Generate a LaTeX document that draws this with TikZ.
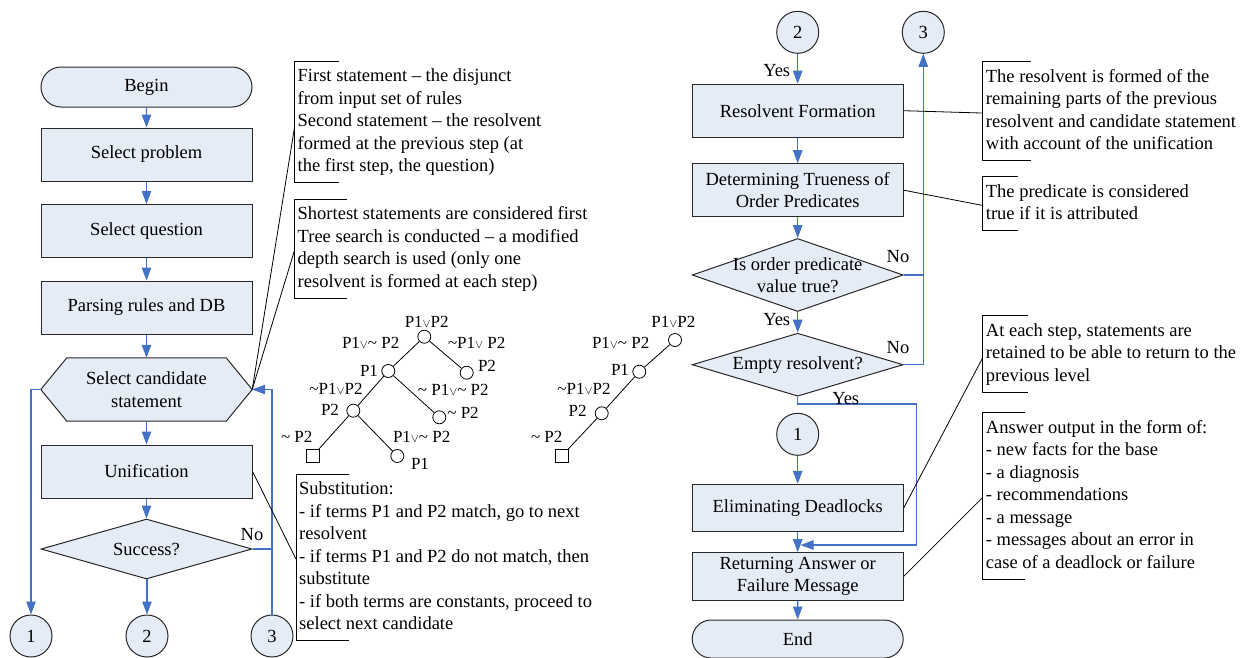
\documentclass[tikz,border=0pt]{standalone}
\usepackage{fontspec}
\setmainfont{Liberation Serif}
\usetikzlibrary{arrows.meta,shapes.geometric,shapes.misc,calc,backgrounds}
\definecolor{boxfill}{RGB}{230,236,246}
\definecolor{flowblue}{RGB}{68,114,196}
\definecolor{edgegray}{RGB}{40,40,40}
\newcommand\tld{\textasciitilde}
\newcommand\orv{\ensuremath{\scriptstyle\vee}}
\begin{document}
\begin{tikzpicture}[x=1pt,y=-1pt,
  every node/.style={font=\fontsize{18.5}{22.5}\selectfont},
  base/.style={draw=edgegray, line width=1pt, fill=boxfill, inner sep=0pt, align=center},
  procbox/.style={base, rectangle, minimum width=211pt, minimum height=53pt},
  termbox/.style={base, rounded rectangle, minimum width=211pt, minimum height=40pt},
  decide/.style={base, diamond, minimum width=211pt},
  conn/.style={base, circle, minimum size=42pt},
  flow/.style={draw=flowblue, line width=1.1pt, -{Triangle[length=13pt,width=9.5pt]}},
  flowline/.style={draw=flowblue, line width=1.1pt},
  note/.style={anchor=north west, align=left, inner xsep=3pt, inner ysep=4pt,
    execute at begin node=\strut, execute at end node=\strut},
  bracket/.style={draw=black, line width=0.9pt},
  callout/.style={draw=black, line width=0.8pt},
  tnode/.style={draw=black, circle, minimum size=13pt, inner sep=0pt, line width=0.8pt},
  tleaf/.style={draw=black, rectangle, minimum size=13pt, inner sep=0pt, line width=0.8pt},
  tlab/.style={font=\fontsize{17}{19}\selectfont, inner sep=0pt},
  tedge/.style={draw=black, line width=0.8pt},
  flab/.style={inner sep=0pt}
]
\useasboundingbox (0,0) rectangle (1242,657);

% ---------- left column ----------
\node[termbox] (begin) at (146.5,87) {Begin};
\node[procbox] (sp) at (146.5,154.5) {Select problem};
\node[procbox] (sq) at (146.5,231) {Select question};
\node[procbox] (pr) at (146.5,307.5) {Parsing rules and DB};
\node[inner sep=0pt, minimum width=211pt, minimum height=63pt, align=center] (hex) at (146.5,389.5) {Select candidate\\statement};
\begin{scope}[on background layer]
\draw[draw=edgegray, line width=1pt, fill=boxfill] (hex.west) -- ($(hex.north west)+(26,0)$) -- ($(hex.north east)+(-26,0)$) -- (hex.east) -- ($(hex.south east)+(-26,0)$) -- ($(hex.south west)+(26,0)$) -- cycle;
\end{scope}
\node[procbox] (unif) at (146.5,471.5) {Unification};
\node[decide, minimum height=60pt, label={[align=center]center:Success?}] (succ) at (146.5,549) {};
\node[conn] (c1) at (31,636) {1};
\node[conn] (c2) at (147,636) {2};
\node[conn] (c3) at (272,636) {3};

\draw[flow] (begin) -- (sp);
\draw[flow] (sp) -- (sq);
\draw[flow] (sq) -- (pr);
\draw[flow] (pr) -- (hex.north);
\draw[flow] (hex.south) -- (unif);
\draw[flow] (unif) -- (succ);
\draw[flow] (succ.south) -- (succ.south -| c2) -- (c2);
\draw[flow] (hex.west) -| (c1.north);
\draw[flow] (c3.north) |- (hex.east);
\draw[flowline] (succ.east) -- (succ.east -| c3);
\node[flab] (nol) at (252,535) {No};

% ---------- left notes ----------
\node[note] (n1) at (294.5,64.5) {First statement – the disjunct\\from input set of rules\\Second statement – the resolvent\\formed at the previous step (at\\the first step, the question)};
\node[note] (n2) at (294.5,202.5) {Shortest statements are considered first\\Tree search is conducted – a modified\\depth search is used (only one\\resolvent is formed at each step)};
\node[note] (n3) at (296,477.5) {Substitution:\\- if terms P1 and P2 match, go to next\\resolvent\\- if terms P1 and P2 do not match, then\\substitute\\- if both terms are constants, proceed to\\select next candidate};
\draw[bracket] ($(n1.north west)+(44,-3.5)$) -- ++(-44,0) -- (n1.south west) -- ++(44,0);
\draw[bracket] ($(n2.north west)+(52,-3.5)$) -- ++(-52,0) -- (n2.south west) -- ++(52,0);
\draw[bracket] ($(n3.north west)+(53,-3.5)$) -- ++(-53,0) -- (n3.south west) -- ++(53,0);
\draw[callout] ($(n1.west)+(0,4)$) -- (hex.east);
\draw[callout] (n2.west) -- (hex.east);
\draw[callout] (n3.west) -- (unif.east);

% ---------- trees ----------
\node[tnode] (t1a) at (424.3,336.7) {};
\node[tnode] (t1b) at (388.3,371) {};
\node[tnode] (t1c) at (466.7,372.7) {};
\node[tnode] (t1d) at (353.3,410.7) {};
\node[tnode] (t1e) at (439.3,417.3) {};
\node[tleaf] (t1f) at (312.7,456) {};
\node[tnode] (t1g) at (397.3,456) {};
\draw[tedge] (t1a) -- (t1b);
\draw[tedge] (t1a) -- (t1c);
\draw[tedge] (t1b) -- (t1d);
\draw[tedge] (t1b) -- (t1e);
\draw[tedge] (t1d) -- (t1f);
\draw[tedge] (t1d) -- (t1g);
\node[tlab] (l1) at (426.7,321.7) {P1\orv P2};
\node[tlab] (l2) at (369,371) {P1};
\node[tlab] (l3) at (487,366) {P2};
\node[tlab] (l4) at (330,410) {P2};
\node[tlab] (l5) at (463,412.7) {\tld{} P2};
\node[tlab] (l6) at (420,464) {P1};
\node[tlab] (l7) at (370.7,343.3) {P1\orv\tld{} P2};
\node[tlab] (l8) at (476.7,343.3) {\tld P1\orv{} P2};
\node[tlab] (l9) at (336,389.3) {\tld P1\orv P2};
\node[tlab] (l10) at (453.3,390) {\tld{} P1\orv\tld{} P2};
\node[tlab] (l11) at (296.7,437.3) {\tld{} P2};
\node[tlab] (l12) at (421.7,437.3) {P1\orv\tld{} P2};

\node[tnode] (t2a) at (675,340) {};
\node[tnode] (t2b) at (639.3,371.7) {};
\node[tnode] (t2c) at (601.7,413.3) {};
\node[tleaf] (t2d) at (561.7,456) {};
\draw[tedge] (t2a) -- (t2b);
\draw[tedge] (t2b) -- (t2c);
\draw[tedge] (t2c) -- (t2d);
\node[tlab] (m1) at (673.3,322.3) {P1\orv P2};
\node[tlab] (m2) at (620,370) {P1};
\node[tlab] (m3) at (577.7,411) {P2};
\node[tlab] (m4) at (620.7,343.3) {P1\orv\tld{} P2};
\node[tlab] (m5) at (584,389.3) {\tld P1\orv P2};
\node[tlab] (m6) at (546.7,437.3) {\tld{} P2};

% ---------- right column ----------
\node[conn] (rc2) at (797.7,32.3) {2};
\node[conn] (rc3) at (923.3,32.3) {3};
\node[procbox] (rf) at (797.7,110.7) {Resolvent Formation};
\node[procbox] (dt) at (797.7,190.2) {Determining Trueness of\\Order Predicates};
\node[decide, minimum height=73pt, label={[align=center]center:Is order predicate\\value true?}] (d1) at (797.7,275) {};
\node[decide, minimum height=63pt, label={[align=center]center:Empty resolvent?}] (d2) at (797.7,364.7) {};
\node[conn] (rc1) at (797.7,434.3) {1};
\node[procbox, minimum height=47.4pt] (el) at (797.7,508) {Eliminating Deadlocks};
\node[procbox, minimum height=47.4pt] (ra) at (797.7,576.4) {Returning Answer or\\Failure Message};
\node[termbox, minimum height=38pt] (end) at (797.7,639) {End};

\draw[flow] (rc2) -- (rf);
\draw[flow] (rf) -- (dt);
\draw[flow] (dt) -- (d1);
\draw[flow] (d1) -- (d2);
\draw[flow] (rc1) -- (el);
\draw[flow] (el) -- (ra);
\draw[flow] (ra) -- (end);
\draw[flowline] (d1.east) -- (d1.east -| rc3);
\draw[flow] (d2.east) -| (rc3.south);
\coordinate (yt) at (916.7,404);
\coordinate (ym) at (916.7,545);
\coordinate (ye) at (800.5,545);
\draw[flow] (d2.south) |- (yt) -- (ym) -- (ye);
\node[flab] (y1) at (776.7,71) {Yes};
\node[flab] (y2) at (776.7,319.3) {Yes};
\node[flab] (y3) at (845.7,398.3) {Yes};
\node[flab] (no1) at (898,256.7) {No};
\node[flab] (no2) at (898,347.7) {No};

% ---------- right notes ----------
\node[note] (r1) at (982.7,65.2) {The resolvent is formed of the\\remaining parts of the previous\\resolvent and candidate statement\\with account of the unification};
\node[note] (r2) at (982.7,180.2) {The predicate is considered\\true if it is attributed};
\node[note] (r3) at (982.7,319.2) {At each step, statements are\\retained to be able to return to the\\previous level};
\node[note] (r4) at (982.7,415.8) {Answer output in the form of:\\- new facts for the base\\- a diagnosis\\- recommendations\\- a message\\- messages about an error in\\case of a deadlock or failure};
\draw[bracket] ($(r1.north west)+(48,-3.5)$) -- ++(-48,0) -- (r1.south west) -- ++(48,0);
\draw[bracket] ($(r2.north west)+(35,-3.5)$) -- ++(-35,0) -- (r2.south west) -- ++(35,0);
\draw[bracket] ($(r3.north west)+(45,-3.5)$) -- ++(-45,0) -- (r3.south west) -- ++(45,0);
\draw[bracket] ($(r4.north west)+(42,-3.5)$) -- ++(-42,0) -- (r4.south west) -- ++(42,0);
\draw[callout] (rf.east) -- (r1.west);
\draw[callout] (dt.east) -- (r2.west);
\draw[callout] (el.east) -- ($(r3.west)+(0,2)$);
\draw[callout] (ra.east) -- (r4.west);
\end{tikzpicture}
\end{document}
